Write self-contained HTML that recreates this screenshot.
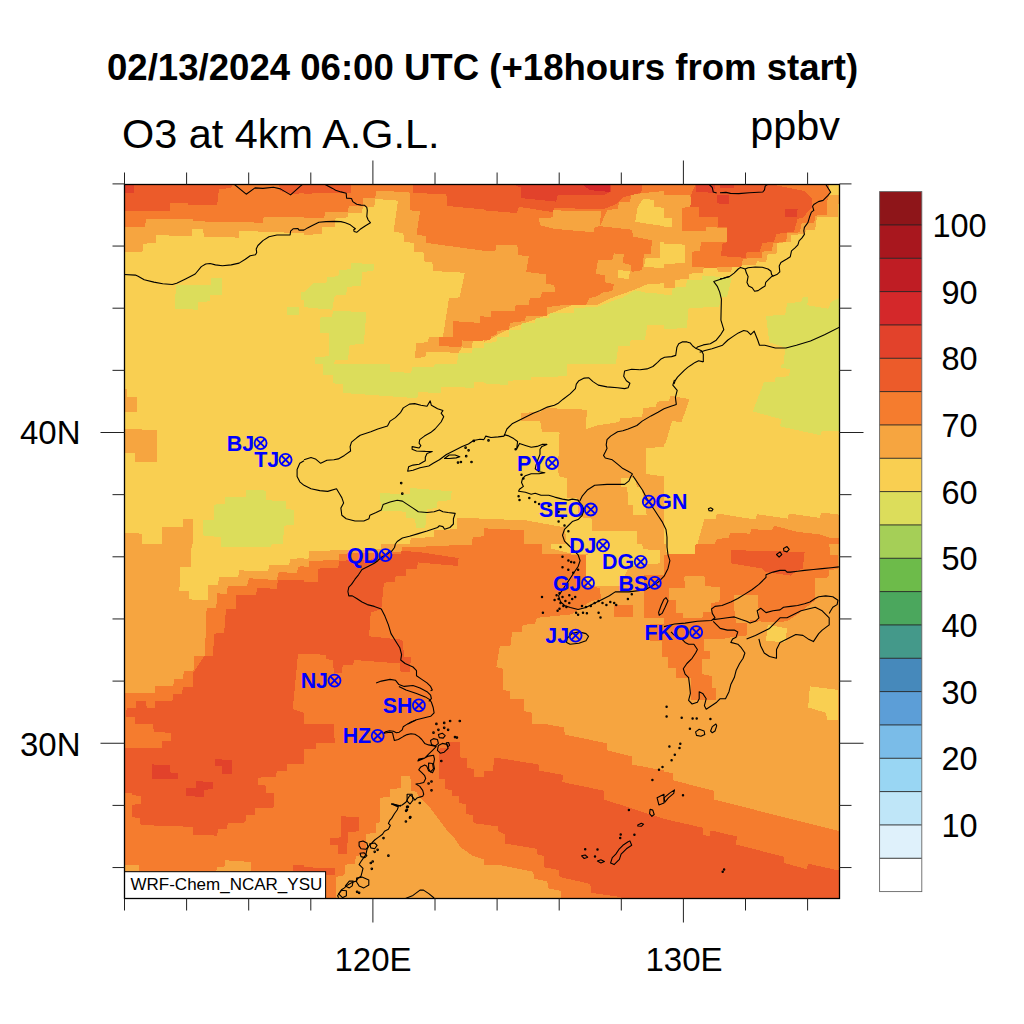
<!DOCTYPE html>
<html><head><meta charset="utf-8"><style>
html,body{margin:0;padding:0;background:#fff;width:1024px;height:1024px;overflow:hidden}
svg{position:absolute;left:0;top:0}
text{font-family:"Liberation Sans",sans-serif;fill:#000}
.t{font-weight:bold;font-size:36.6px}
.s{font-size:41.4px}
.ax{font-size:33px}
.cbl{font-size:32.5px}
.st{font-size:21.4px;font-weight:bold;fill:#00f}
.wm{font-size:17px}
</style></head><body>
<svg width="1024" height="1024" viewBox="0 0 1024 1024">
<defs><clipPath id="mc"><rect x="124.5" y="184.5" width="715.0" height="714.0"/></clipPath></defs>
<text x="107" y="80.4" class="t">02/13/2024 06:00 UTC (+18hours from start)</text>
<text x="122" y="148" class="s">O3 at 4km A.G.L.</text>
<text x="840" y="140" class="s" text-anchor="end">ppbv</text>
<g clip-path="url(#mc)" shape-rendering="crispEdges">
<rect x="124.5" y="184.5" width="715.0" height="714.0" fill="#F9CF51"/>
<g transform="translate(124 184) scale(0.175781)">
<polygon fill="#F6A540" points="0,0 1024,0 1024,280 800,272 655,265 655,305 455,300 450,255 390,255 385,295 185,292 180,335 110,340 105,385 0,385"/>
<polygon fill="#F57C2E" points="0,0 1024,0 1024,185 795,185 790,220 390,212 390,200 125,200 120,245 0,245"/>
<polygon fill="#EC5B2A" points="0,0 620,0 610,22 540,30 530,122 365,118 365,110 260,110 260,155 0,155"/>
<polygon fill="#EC5B2A" points="880,0 1024,0 1024,50 960,60 890,40"/>
<polygon fill="#E2422B" points="0,0 55,0 55,50 0,50"/>
<polygon fill="#DCDD5B" points="295,575 495,575 495,535 555,535 555,630 490,630 490,668 420,670 420,715 290,710"/>
<polygon fill="#DCDD5B" points="930,700 995,700 995,745 930,745"/>
<polygon fill="#DCDD5B" points="1005,615 1024,615 1024,660 1005,660"/>
</g>
<g transform="translate(124 364) scale(0.175781)">
<polygon fill="#F6A540" points="0,140 15,140 15,190 75,190 75,275 0,275"/>
<polygon fill="#F6A540" points="0,370 190,375 185,555 60,555 60,505 0,505"/>
<polygon fill="#F6A540" points="0,960 100,965 100,1024 0,1024"/>
<polygon fill="#F6A540" points="215,925 335,925 335,880 395,885 390,1024 215,1024"/>
<polygon fill="#DCDD5B" points="450,890 510,885 515,800 575,795 575,755 695,755 695,715 805,720 805,775 920,780 920,825 970,830 965,915 910,920 905,1024 555,1024 550,985 450,975"/>
</g>
<g transform="translate(124 544) scale(0.175781)">
<polygon fill="#F6A540" points="0,0 1024,0 1024,1024 0,1024"/>
<polygon fill="#F9CF51" points="385,0 1024,0 1024,80 945,85 940,120 825,120 820,155 655,150 650,185 540,190 535,235 480,235 475,320 370,315 370,270 315,270 320,130 380,130"/>
<polygon fill="#DCDD5B" points="550,0 840,0 835,20 550,15"/>
<polygon fill="#F57C2E" points="1024,125 990,130 985,165 880,160 870,205 710,195 700,240 590,240 585,285 530,280 525,365 470,365 460,635 400,635 395,725 340,725 335,770 285,770 280,810 175,810 175,850 0,850 0,1024 1024,1024"/>
<polygon fill="#EC5B2A" points="1024,205 875,205 870,255 760,250 750,290 640,290 635,370 580,370 570,505 515,510 505,635 455,640 395,730 390,815 335,815 330,855 280,855 275,895 175,895 175,935 130,935 125,895 70,895 65,935 15,935 10,985 60,985 60,1024 1024,1024 1024,960 960,940 990,625 1024,625"/>
</g>
<g transform="translate(124 724) scale(0.175781)">
<polygon fill="#F57C2E" points="0,0 1024,0 1024,1024 0,1024"/>
<polygon fill="#EC5B2A" points="0,135 215,135 215,95 265,95 265,50 170,45 165,0 1024,0 1024,230 930,230 925,265 870,265 865,300 765,305 765,345 805,350 805,390 855,395 850,480 745,480 745,515 695,520 690,560 590,565 585,600 535,600 530,635 395,630 390,585 95,575 90,535 45,530 45,460 95,455 95,410 50,405 45,395 0,395"/>
<polygon fill="#E2422B" points="160,230 260,235 260,275 305,280 305,315 160,315"/>
<polygon fill="#E2422B" points="515,200 615,205 615,285 560,285 555,240 515,240"/>
<polygon fill="#E2422B" points="350,365 410,365 410,325 505,330 505,370 455,375 455,415 350,410"/>
<polygon fill="#F6A540" points="0,800 85,800 85,835 0,835"/>
<polygon fill="#F6A540" points="525,835 530,815 575,810 575,775 720,785 720,835"/>
<polygon fill="#EC5B2A" points="960,800 1024,800 1024,835 960,835"/>
</g>
<g transform="translate(304 184) scale(0.175781)">
<polygon fill="#F6A540" points="0,0 1024,0 1024,890 960,895 955,935 900,930 880,960 695,955 690,985 630,990 640,905 705,900 710,870 790,870 825,650 885,645 915,505 735,495 730,445 680,440 680,390 625,385 625,335 570,330 565,280 510,270 535,95 405,85 400,130 335,130 330,165 250,165 250,190 180,195 175,245 105,245 100,285 0,290"/>
<polygon fill="#F57C2E" points="0,0 1024,0 1024,380 695,335 695,295 640,290 660,155 605,150 600,45 410,40 405,80 335,80 335,125 255,125 250,160 120,160 115,195 0,195"/>
<polygon fill="#F57C2E" points="850,780 1000,790 1000,750 1024,750 1024,890 960,895 900,890 895,930 770,920 770,870 850,870"/>
<polygon fill="#EC5B2A" points="0,0 270,0 265,50 0,55"/>
<polygon fill="#EC5B2A" points="620,0 1024,0 1024,145 815,125 810,60 620,50"/>
<polygon fill="#DCDD5B" points="0,620 50,565 130,560 130,530 195,525 200,490 265,485 270,450 400,455 395,495 330,500 325,580 245,585 240,630 175,635 160,715 40,705 0,700"/>
<polygon fill="#DCDD5B" points="90,760 160,755 165,720 355,730 340,910 260,915 250,1000 180,1000 170,1024 60,1024 65,985 140,980 145,850 90,850"/>
<polygon fill="#DCDD5B" points="880,960 955,960 960,935 1024,935 1024,1024 870,1024"/>
</g>
<g transform="translate(304 364) scale(0.175781)">
<polygon fill="#DCDD5B" points="110,0 490,0 490,45 610,50 615,15 740,15 745,0 1024,0 1024,100 970,105 965,135 780,130 780,165 650,160 645,195 225,165 220,115 165,110 165,65 110,60"/>
<polygon fill="#DCDD5B" points="430,735 600,740 605,705 840,725 835,775 760,780 755,820 700,825 690,930 640,935 630,880 580,875 580,840 440,835"/>
<polygon fill="#F6A540" points="600,1024 610,990 740,985 740,945 870,940 870,875 1024,880 1024,1024"/>
<polygon fill="#F57C2E" points="960,985 1024,980 1024,1024 955,1024"/>
</g>
<g transform="translate(304 544) scale(0.175781)">
<polygon fill="#F6A540" points="0,0 1024,0 1024,1024 0,1024"/>
<polygon fill="#F9CF51" points="0,0 440,0 440,30 30,40 25,85 0,85"/>
<polygon fill="#F57C2E" points="0,130 30,130 30,95 80,95 200,90 200,55 440,50 560,45 560,20 1024,0 1024,1024 0,1024"/>
<polygon fill="#EC5B2A" points="0,215 80,215 80,140 195,135 200,95 380,90 440,60 550,55 555,40 650,45 880,80 875,125 650,105 640,140 580,145 580,180 520,185 515,215 455,220 440,370 380,390 370,525 560,545 570,640 610,645 600,730 550,730 545,680 285,660 280,690 220,690 215,735 170,735 165,660 125,655 125,630 0,625"/>
</g>
<g transform="translate(304 724) scale(0.175781)">
<polygon fill="#F57C2E" points="0,0 1024,0 1024,1024 0,1024"/>
<polygon fill="#EC5B2A" points="0,0 170,0 175,110 70,110 65,145 0,145"/>
<polygon fill="#EC5B2A" points="210,525 315,530 315,610 250,615 245,740 195,740 195,690 150,690 150,650 210,645"/>
<polygon fill="#EC5B2A" points="0,815 175,820 175,860 0,860"/>
<polygon fill="#EC5B2A" points="820,100 890,100 890,190 925,195 925,250 965,255 970,300 1024,300 1024,570 965,565 960,520 920,510 920,455 880,450 880,410 840,410 840,375 800,370 800,315 770,310 770,140 820,135"/>
<polygon fill="#F6A540" points="550,295 605,295 610,380 640,385 645,400 680,440 720,480 765,540 810,600 850,640 890,700 960,750 1024,770 1024,1024 180,1024 180,870 230,860 235,800 290,795 295,750 350,745 355,625 410,620 410,565 430,560 430,420 490,415 490,370 550,365"/>
</g>
<g transform="translate(484 184) scale(0.175781)">
<polygon fill="#F6A540" points="0,0 1024,0 1024,565 930,570 860,600 790,625 720,650 640,690 500,690 370,740 290,770 150,820 0,900"/>
<polygon fill="#F9CF51" points="905,85 970,90 965,130 1024,135 1024,240 860,215 875,130"/>
<polygon fill="#F9CF51" points="1000,330 1024,330 1024,480 910,470 920,420 1000,420"/>
<polygon fill="#F9CF51" points="765,490 830,495 825,540 760,535"/>
<polygon fill="#F57C2E" points="0,0 1024,0 1024,40 920,50 840,60 830,100 770,105 760,140 700,150 660,240 840,260 850,300 955,320 950,400 910,400 900,490 840,500 835,460 790,450 795,400 740,395 730,430 650,430 635,510 690,520 690,560 740,570 730,610 680,615 640,640 600,650 580,690 440,690 360,700 360,750 240,750 230,780 150,790 140,830 75,835 70,860 40,865 35,890 0,890"/>
<polygon fill="#F6A540" points="0,380 65,380 70,345 190,350 195,405 255,410 240,500 355,515 350,565 400,575 405,615 330,615 320,650 260,650 255,690 180,690 175,720 40,720 40,755 0,755"/>
<polygon fill="#F6A540" points="310,195 390,190 395,150 665,155 660,240 630,245 625,275 400,255 320,235"/>
<polygon fill="#EC5B2A" points="0,0 900,0 895,50 790,75 760,110 690,140 660,145 400,135 390,160 200,130 185,165 0,150"/>
<polygon fill="#E2422B" points="160,0 720,0 720,45 690,60 420,60 410,100 210,80 210,20"/>
<polygon fill="#D4282A" points="560,0 720,0 715,45 600,35"/>
<polygon fill="#DCDD5B" points="0,905 70,900 75,870 140,870 145,830 210,830 215,790 290,790 295,760 370,760 375,735 510,735 515,705 640,700 720,670 790,645 860,605 930,620 1024,625 1024,800 930,800 915,885 835,885 830,920 765,920 750,1024 0,1024"/>
</g>
<g transform="translate(484 364) scale(0.175781)">
<polygon fill="#DCDD5B" points="0,0 475,0 470,70 270,75 265,90 140,95 135,120 0,110"/>
<polygon fill="#F6A540" points="210,280 330,270 335,250 585,260 580,370 640,350 770,330 775,310 900,300 905,250 975,245 985,215 1024,210 1024,1024 620,1024 615,880 540,870 530,765 475,760 470,650 430,640 420,610 430,390 330,385 320,325 210,325"/>
<polygon fill="#F9CF51" points="920,480 1024,470 1024,640 920,625"/>
<polygon fill="#F9CF51" points="780,650 860,645 870,700 900,705 905,790 920,795 925,860 850,860 845,800 820,800 815,700 780,700"/>
<polygon fill="#F9CF51" points="615,950 868,950 868,1024 615,1024"/>
<polygon fill="#F6A540" points="0,880 240,890 460,930 470,1024 0,1024"/>
<polygon fill="#F57C2E" points="0,935 230,945 230,1024 0,1024"/>
</g>
<g transform="translate(484 544) scale(0.175781)">
<polygon fill="#F6A540" points="0,0 1024,0 1024,1024 0,1024"/>
<polygon fill="#F9CF51" points="380,0 900,0 905,30 1000,35 1000,110 830,125 800,180 780,240 690,240 680,150 640,145 600,120 595,60 500,55 380,25"/>
<polygon fill="#F57C2E" points="0,0 330,0 330,55 500,60 580,65 580,240 660,250 665,310 600,330 500,400 300,420 290,455 220,460 215,500 160,500 150,580 90,580 70,700 110,710 110,830 150,840 150,880 225,880 230,950 270,960 275,1024 0,1024"/>
<polygon fill="#F9CF51" points="580,60 690,60 690,240 580,240"/>
<polygon fill="#F57C2E" points="909,177 1024,177 1024,420 909,420"/>
<polygon fill="#F57C2E" points="739,347 849,347 849,417 739,417"/>
<polygon fill="#F57C2E" points="943,455 1024,455 1024,643 1010,643 1010,552 943,552"/>
</g>
<g transform="translate(484 724) scale(0.175781)">
<polygon fill="#F57C2E" points="0,0 1024,0 1024,1024 0,1024"/>
<polygon fill="#F6A540" points="350,0 1024,0 1024,265 840,230 840,185 700,150 700,110 460,60 455,20"/>
<polygon fill="#EC5B2A" points="0,265 50,265 60,190 310,230 315,265 450,290 445,330 685,380 685,430 1024,540 1024,1024 790,1024 780,985 610,960 605,910 430,870 425,830 340,815 340,750 300,740 300,710 120,680 120,630 80,610 80,580 0,575"/>
<polygon fill="#F6A540" points="0,800 100,805 280,840 285,880 360,895 365,935 440,950 440,1024 0,1024"/>
</g>
<g transform="translate(664 184) scale(0.175781)">
<polygon fill="#F6A540" points="0,0 935,0 940,60 995,60 990,185 940,190 870,190 860,260 810,260 800,285 725,290 720,330 645,335 640,395 590,400 580,445 530,440 520,460 455,460 390,470 380,500 310,500 300,478 225,480 220,505 145,510 140,540 65,545 60,590 0,590"/>
<polygon fill="#F9CF51" points="0,195 45,195 45,245 0,245"/>
<polygon fill="#F9CF51" points="0,340 120,345 120,450 0,455"/>
<polygon fill="#F57C2E" points="0,0 935,0 945,45 930,90 925,175 860,180 855,220 780,225 775,275 700,280 695,330 620,335 615,380 560,385 555,420 450,425 440,470 300,475 290,480 160,470 160,385 205,380 210,330 360,330 365,250 240,245 240,270 100,265 105,135 155,130 150,60 0,60"/>
<polygon fill="#EC5B2A" points="180,0 600,0 700,20 800,40 840,80 845,130 790,190 760,200 740,270 640,285 625,330 560,335 545,385 470,390 465,420 325,410 330,340 360,330 360,245 305,245 305,190 200,185 200,130 150,130 155,60"/>
<polygon fill="#E2422B" points="180,0 290,0 285,50 180,45"/>
<polygon fill="#E2422B" points="320,0 400,0 400,20 320,20"/>
<polygon fill="#E2422B" points="300,60 370,60 370,115 300,110"/>
<polygon fill="#E2422B" points="690,140 760,145 755,190 690,185"/>
<polygon fill="#DCDD5B" points="0,630 45,630 50,590 125,585 130,545 215,545 220,520 385,535 360,640 320,645 315,700 140,705 130,820 0,825"/>
<polygon fill="#DCDD5B" points="580,750 690,745 700,680 780,670 790,640 820,645 815,690 935,710 950,670 1000,645 1024,645 1024,1024 680,1024 690,930 600,900 590,830"/>
</g>
<g transform="translate(664 364) scale(0.175781)">
<polygon fill="#F6A540" points="0,210 30,210 35,180 145,200 100,330 45,325 10,450 0,455"/>
<polygon fill="#DCDD5B" points="670,0 1024,0 1024,385 900,380 890,405 660,355 670,315 505,270 570,100 630,100 635,75 710,70 720,30 665,20"/>
<polygon fill="#F6A540" points="190,1024 230,880 295,880 300,850 520,885 530,855 705,880 710,850 885,875 895,845 1024,860 1024,1024"/>
<polygon fill="#F57C2E" points="290,1024 300,995 370,990 375,960 490,965 495,940 615,945 625,920 760,955 890,970 950,990 1024,990 1024,1024"/>
</g>
<g transform="translate(664 544) scale(0.175781)">
<polygon fill="#F6A540" points="0,0 1024,0 1024,1024 0,1024"/>
<polygon fill="#F57C2E" points="0,60 20,60 20,0 940,0 945,60 990,60 990,140 940,150 935,190 860,195 860,320 760,400 700,440 600,445 540,440 470,450 470,520 353,535 336,541 230,541 230,607 264,607 264,652 219,652 219,741 275,752 275,819 297,819 297,887 152,887 152,763 69,763 69,707 25,707 25,641 0,641"/>
<polygon fill="#F6A540" points="69,250 120,250 115,185 230,180 235,240 320,245 315,330 270,335 265,385 220,390 219,419 108,419 108,391 69,391"/>
<polygon fill="#F6A540" points="30,250 69,250 69,319 30,319"/>
<polygon fill="#F6A540" points="400,290 535,290 540,430 490,430 485,450 410,450 400,370"/>
<polygon fill="#EC5B2A" points="380,35 800,45 790,140 760,150 720,180 650,170 580,160 560,140 380,110"/>
<polygon fill="#F9CF51" points="10,0 180,0 175,55 15,55"/>
<polygon fill="#F9CF51" points="590,460 700,480 690,560 580,550"/>
<polygon fill="#F9CF51" points="830,810 990,830 990,1000 930,1000 920,960 820,930"/>
</g>
<g transform="translate(664 724) scale(0.175781)">
<polygon fill="#F6A540" points="0,0 1024,0 1024,1024 0,1024"/>
<polygon fill="#F57C2E" points="0,270 50,280 50,320 285,380 285,430 1000,610 1024,610 1024,1024 0,1024"/>
<polygon fill="#EC5B2A" points="0,540 220,590 220,630 260,640 265,605 415,640 410,685 680,755 680,790 810,825 820,795 1024,840 1024,1024 0,1024"/>
</g>
</g>
<g clip-path="url(#mc)" fill="none" stroke="#000" stroke-width="1.1" stroke-linejoin="round">
<path d="M124.0 274.5L135.4 275.1L138.1 276.3L144.2 279.8L153.9 282.1L162.7 283.7L172.3 284.5L176.7 283.3L185.5 278.9L195.2 274.0L201.3 266.6L205.7 264.0L210.1 263.5L215.4 264.9L222.4 265.7L231.2 264.9L239.1 263.1L245.3 259.2L250.2 255.7L255.5 254.7L256.7 252.6L256.2 249.0L257.9 245.5L262.9 240.6L269.0 236.7L276.9 235.0L290.1 235.0L290.6 231.1L293.1 228.8L298.0 228.5L298.9 230.1L304.0 230.1"/>
<path d="M233.9 184.0L246.2 194.2L255.0 187.9L262.9 188.4L273.4 187.2L280.4 188.9L290.6 194.9L299.8 186.6L302.9 184.0"/>
<path d="M325.1 184.4L332.6 188.4L335.6 190.2L340.9 191.9L346.2 193.2L346.6 198.1L351.5 198.5L352.8 201.6L356.7 204.2L361.1 205.1L364.6 205.3L366.8 207.3L367.3 210.4L366.8 216.5L368.2 220.0L370.4 222.7L365.5 225.7L360.2 229.3L356.7 232.3L354.1 231.5L353.7 229.7L355.4 228.8L353.2 227.1L349.7 224.4L345.3 222.7L340.9 221.6L334.8 221.4L326.0 221.6L318.9 222.2L312.8 225.3L307.5 227.9L304.0 230.1"/>
<path d="M720.0 192.8L725.9 192.4L730.5 193.4L738.8 193.6L749.3 192.8L758.7 192.2L762.8 192.0L764.5 189.9L765.1 186.3L766.9 184.6L771.6 184.0"/>
<path d="M708.8 184.0L712.3 187.5L713.2 191.9L716.7 193.1"/>
<path d="M825.5 184.0L830.7 192.2L827.8 195.7L823.1 200.4L818.4 201.6L813.8 204.5L812.6 206.3L813.8 210.4L811.4 212.1L809.6 216.8L807.9 222.7L804.4 227.4L803.8 230.9L804.4 234.4L802.0 237.9L799.1 240.8L797.9 244.9L795.0 247.9L791.5 250.8L790.3 256.7L786.8 259.0L780.9 262.5L779.2 266.0L779.8 271.9L777.4 274.2L773.3 276.0L771.6 274.8"/>
<path d="M771.6 274.8L771.0 271.3L768.0 269.0L762.2 267.2L755.2 267.0L748.1 267.8L745.2 269.0L746.4 273.1L748.1 276.6L747.0 282.4L748.7 286.0L752.2 287.7L754.6 291.2L758.1 290.6L762.2 287.7L765.1 286.0L765.7 282.4L769.2 278.9L771.6 276.6L773.3 276.0"/>
<path d="M745.2 269.0L740.5 267.4L738.2 269.0L734.1 273.1L729.4 276.6L723.5 278.3L720.0 278.9"/>
<path d="M729.4 276.5L724.4 277.9L713.8 281.6L717.3 286.3L719.7 292.1L721.4 299.2L721.1 310.9L720.9 320.2L723.8 329.6L720.9 334.3L716.2 340.2L710.3 343.7L703.3 344.9L697.4 347.0L696.2 348.6L701.5 350.7L703.3 354.2L703.3 361.9"/>
<path d="M696.2 348.6L692.7 346.0L690.4 343.1L686.9 341.9L682.2 341.9L678.7 343.7L676.9 347.2L675.7 355.4L671.6 356.6L664.6 357.2L661.1 358.9L657.6 362.4L652.9 366.5L647.0 368.9L640.0 369.8"/>
<path d="M639.9 369.8L631.7 369.3L624.6 371.0L623.7 376.3L626.4 380.7L629.9 383.3L628.1 387.7L624.6 388.6L617.6 387.7L607.0 386.9L598.3 385.1L593.0 381.6L588.6 377.7L584.2 378.1L578.9 380.7L576.3 384.2L575.4 388.6L570.1 393.9L563.1 399.2L557.8 403.6L554.3 405.3L547.3 407.1L540.2 410.6L533.2 413.2L526.2 416.7L519.2 420.2L512.1 423.8L506.9 429.0L505.1 433.4L504.2 436.1"/>
<path d="M699.7 352.3L705.0 350.5L712.0 348.8L722.6 345.2L727.9 340.0L733.1 336.4L738.4 332.9L743.7 330.5L747.2 331.2L750.7 334.7L754.2 331.2L757.7 340.0L759.5 345.2L764.8 345.2L775.3 348.0L785.9 348.0L796.4 345.2L810.5 341.0L824.5 334.7L840.0 327.0"/>
<path d="M703.3 361.9L698.6 360.7L695.1 362.4L691.6 364.8L688.0 367.1L684.5 370.1L681.0 373.6L677.5 377.1L675.2 380.6L674.0 384.0"/>
<path d="M674.5 379.8L672.8 385.1L677.2 390.4L675.4 397.4L676.3 404.4L671.0 406.2L664.0 408.8"/>
<path d="M664.0 408.8L658.0 412.3L651.0 415.9L642.2 421.1L636.9 425.5L628.1 429.0L622.9 430.8L617.6 431.7L610.6 436.1L607.0 439.6L606.2 444.9L607.0 448.4L605.3 451.9L603.5 455.4L605.3 458.0L612.3 459.8L617.6 464.2L622.9 468.6L628.1 471.2L632.5 473.9"/>
<path d="M579.8 501.1L582.4 495.8L587.7 489.7L594.7 485.3L607.0 484.4L624.6 484.4L629.0 480.9L630.8 476.5L632.5 473.9"/>
<path d="M484.0 439.6L485.8 436.1L491.0 437.5L498.1 436.9L504.2 436.1"/>
<path d="M503.9 434.6L507.8 435.6L513.7 438.6L517.6 441.5L516.6 449.3L519.5 443.4L525.4 445.4L531.2 447.3L537.1 446.4L542.0 444.4L546.9 444.4L542.0 446.4L540.0 449.3L540.0 454.2L538.1 459.1L536.1 464.9L535.2 468.8L539.1 471.8L544.9 472.7L539.1 473.7L531.2 473.7L525.4 475.7L522.5 478.6L521.5 482.5L523.4 486.4L519.5 489.3L518.6 491.3L525.4 492.3L531.2 494.2L535.2 493.2L541.0 495.2L548.8 495.2L554.7 497.1L562.5 499.1L568.4 500.1L572.3 499.1L578.1 500.1L582.0 505.9L584.0 509.8L582.0 515.7L578.1 519.6L572.3 521.6L568.4 525.5L564.5 529.4L562.5 535.2L564.5 541.1L568.4 545.0L572.3 548.9L578.1 554.8L580.1 560.6L578.1 566.5L574.2 572.3L570.3 578.2L566.4 584.1L562.5 589.9L558.6 595.8L560.5 601.6L564.5 605.5L570.3 607.5L578.1 609.5L585.9 607.5L593.8 603.6L601.6 599.7L609.4 595.8L615.2 591.9L621.1 591.9L628.9 591.9L636.7 590.9L644.5 589.9L652.3 586.0L658.2 582.1L664.1 576.2L668.0 568.4L669.9 560.6L668.0 554.8L667.0 547.0L667.0 537.2L666.0 529.4L662.1 521.6L658.2 515.7L654.3 509.8L650.4 504.0L646.5 498.1L642.6 490.3L638.7 484.5L634.8 478.6L632.8 475.7"/>
<path d="M666.0 597.7L668.0 600.7L665.0 607.5L662.1 613.4L659.2 615.3L658.6 612.4L661.1 605.5L663.7 599.7L666.0 597.7Z"/>
<path d="M566.6 638.9L571.9 633.6L578.9 631.9L586.0 633.6L588.6 636.3L586.0 640.7L578.9 643.3L570.1 644.2L566.6 642.4Z"/>
<path d="M304.0 460.7L299.8 463.3L297.1 469.5L297.1 476.5L299.8 481.8L304.0 485.3"/>
<path d="M304.0 459.8L311.0 457.5L315.4 458.9L320.7 463.3L326.9 460.3L333.9 459.8L338.3 458.9L344.4 455.4L350.6 451.0L350.1 446.6L351.5 442.2L356.7 437.8L360.2 435.2L370.8 431.7L377.8 429.0L387.5 425.9L390.1 421.1L395.4 417.6L400.7 412.3L403.3 407.9L409.5 404.1L414.7 403.6L420.9 405.3L427.0 406.2L430.2 400.9L431.4 405.3L437.6 408.8L442.9 410.6L441.1 413.2L443.7 416.7L441.1 422.0L435.0 429.0L430.6 432.6L424.4 436.1L419.7 439.6L419.1 443.1L420.9 445.7L419.1 448.0L412.1 446.6L412.1 449.3L416.5 451.0L425.3 451.4L432.3 451.5L427.0 453.6L425.3 457.2L425.3 460.7L419.1 464.2L413.0 465.1L408.6 466.8L407.7 471.2L413.0 470.3L420.0 467.7L428.8 466.0L433.2 463.3L439.4 459.8L446.4 454.5L453.4 451.0L462.2 446.6L468.4 444.0L473.6 440.5L479.8 439.2L484.0 439.6"/>
<path d="M304.0 485.3L311.0 488.8L319.8 490.6L327.7 491.4L336.5 488.8L339.2 493.2L341.8 497.6L343.6 502.9L340.9 508.1L341.8 515.2L346.2 518.7L355.0 521.0L363.8 521.0L369.0 518.7L369.9 515.2L376.1 512.5L381.3 509.9L383.1 504.6L390.1 502.0L397.2 500.2L402.4 501.1L407.7 504.6L413.0 508.1L418.3 511.7L427.0 512.5L434.1 511.7L439.4 509.9L442.9 511.7L448.1 512.5L455.2 513.4L453.4 518.7L453.4 524.0L449.9 527.5L444.6 529.2L442.9 526.6L439.4 525.7L437.6 527.5L427.0 531.0L418.3 533.6L409.5 536.3L402.4 538.0L397.2 541.5L395.4 544.0"/>
<path d="M395.4 544.0L394.5 547.5L391.9 551.0L386.6 554.5L381.3 557.2L377.8 560.7L374.3 563.3L369.0 566.0L362.0 569.5L358.5 574.8L355.0 579.2L351.5 584.4L348.8 587.1L347.9 591.5L348.8 595.9L352.3 595.9L356.7 598.5L362.0 602.0L367.3 604.6L374.3 606.4L381.3 609.0L384.9 616.1L388.4 624.9L391.0 633.6L395.4 640.7L399.8 647.7L401.6 654.7L400.7 660.0L405.1 663.5L413.0 667.0L416.5 670.6L416.5 675.8L421.8 679.4L427.0 682.9L430.6 686.4L432.3 689.9L430.6 690.8"/>
<path d="M376.1 682.9L381.3 681.1L390.1 679.4L395.4 680.2L398.9 684.6L404.2 686.4L413.0 685.5L420.0 688.1L427.0 691.7L430.6 695.2L431.4 698.7L428.8 701.3"/>
<path d="M398.9 686.4L406.0 689.9L416.5 693.4L425.3 696.9L429.7 699.6L431.4 702.2L433.2 707.5L434.1 712.8L430.6 716.3L423.5 718.0L416.5 719.8L409.5 723.3L407.7 724.0"/>
<path d="M404.2 898.9L413.0 895.4L420.0 890.1L423.5 890.1L428.8 893.6L434.1 898.0"/>
<path d="M664.0 626.6L674.5 624.0L685.1 623.1L697.4 621.3L711.5 620.5L715.0 617.8L712.3 613.4L711.5 609.0L715.0 606.4L722.0 605.5L730.8 602.0L737.8 598.5L744.9 594.1L751.9 589.7L758.9 584.4L766.0 577.4L766.0 574.8L773.0 572.1L780.0 570.4L785.3 570.4L787.0 572.1L790.6 572.1L797.6 571.2L804.6 570.4L813.4 569.5L822.2 568.6L831.0 567.7L838.9 566.9"/>
<path d="M713.2 619.6L720.2 618.7L727.3 617.8L734.3 616.9L741.3 619.6L746.6 621.3L750.1 623.1L755.4 621.3L758.9 617.8L757.2 610.8L760.7 608.2L766.0 612.6L773.0 610.8L780.0 609.9L783.5 607.3L790.6 606.4L797.6 605.5L804.6 603.8L809.9 602.0L815.2 598.5L818.7 596.7L825.7 595.9L832.8 596.7L838.0 600.2L837.1 604.6L832.8 607.3L830.1 611.7L829.2 613.4"/>
<path d="M746.6 638.9L755.4 635.4L762.4 631.9L769.5 628.4L776.5 621.3L780.0 617.8L787.0 617.8L794.1 614.3L801.1 610.8L808.1 609.0L815.2 607.3L822.2 610.8L825.7 614.3L829.2 617.8L829.2 624.9L822.2 630.1L818.7 633.6L815.2 638.9L813.4 641.6L808.1 638.9L802.9 635.4L795.8 634.5L787.0 638.9L780.0 642.4L776.5 649.5L776.5 658.3L769.5 656.5L764.2 653.0L760.7 646.0L758.9 638.9"/>
<path d="M713.2 621.3L716.7 624.9L720.2 628.4L727.3 630.1L734.3 630.1L737.8 631.9L736.1 637.2L732.6 638.9L730.8 642.4L737.8 644.2L741.3 647.7L744.9 653.0L743.1 658.3L739.6 663.5L736.1 670.6L734.3 677.6L730.8 684.6L729.0 691.7L725.5 698.7L720.2 698.7L716.7 702.2L711.5 705.7L706.2 709.2L704.4 705.7L706.2 698.7L702.7 693.4L699.2 691.7L699.2 698.7L697.4 702.2L692.1 704.0L688.6 700.4L690.4 693.4L689.5 684.6L688.6 677.6L685.1 674.1L683.3 668.8L686.9 663.5L692.1 658.3L695.6 653.0L697.4 649.5L693.9 644.2L688.6 644.2L685.1 642.4L681.6 638.9L674.5 635.4L671.0 631.9"/>
<path d="M776.5 554.5L780.0 551.9L781.8 554.5L779.1 557.2L776.5 554.5Z"/>
<path d="M783.5 548.4L787.0 546.6L789.2 549.3L787.0 551.9L783.9 551.0L783.5 548.4Z"/>
<path d="M629.9 840.9L631.7 845.3L626.4 848.8L621.1 854.1L619.4 859.4L614.1 864.6L610.6 862.9L612.3 857.6L615.8 854.1L619.4 848.8L622.9 845.3L628.1 841.8L629.9 840.9Z"/>
<path d="M650.1 809.3L652.8 810.1L654.2 814.5L651.9 816.3L649.6 813.6L650.1 809.3Z"/>
<path d="M637.8 825.1L641.3 823.3L643.6 824.2L641.3 826.3L637.8 826.0Z"/>
<path d="M581.6 855.8L585.1 855.0L587.7 857.2L584.2 858.5L581.6 855.8Z"/>
<path d="M597.4 861.1L600.9 859.7L604.4 861.5L600.9 862.9L597.4 861.1Z"/>
<path d="M657.1 797.8L664.0 794.3L664.0 803.1L658.9 804.9L657.1 797.8Z"/>
<path d="M695.6 731.9L699.2 729.3L704.1 731.0L704.8 734.5L700.9 736.3L696.5 735.4L695.6 731.9Z"/>
<path d="M710.6 731.0L712.3 726.6L715.9 724.0L716.7 725.8L715.0 731.0L712.3 732.8L710.6 731.0Z"/>
<path d="M664.0 797.8L669.3 793.4L674.5 789.9L673.7 793.4L668.4 797.8L664.9 802.2L664.0 797.8Z"/>
<path d="M708.4 508.8L710.7 507.8L713.0 509.2L711.9 510.9L709.1 510.7L708.4 508.8Z"/>
<path d="M415.9 720.0L411.0 722.0L406.1 724.9L403.2 726.8L402.2 729.8L399.3 732.2L396.4 732.7L393.4 731.2L389.5 730.7L385.6 731.7L383.7 733.2"/>
<path d="M383.7 733.2L389.5 732.2L392.5 732.7L393.4 736.6L394.4 740.5L398.3 739.5L403.2 736.6L407.1 734.6L411.0 733.7L414.9 734.2L418.8 736.6L421.8 739.5L424.7 743.4L428.6 744.9L432.5 745.6L436.4 746.4"/>
<path d="M436.4 746.4L432.5 750.3L428.6 754.2L424.7 758.1L418.8 759.1L417.9 761.0L422.7 759.1L428.6 756.1L433.5 755.2L434.5 759.1L433.5 763.9L434.5 768.8L432.5 772.7L428.6 770.8L426.6 765.9L424.7 764.9L420.8 766.9L418.8 769.8L421.8 772.7L424.7 775.7L425.7 778.6L423.7 782.5L419.8 783.5L415.9 784.0L419.8 786.4L422.7 790.3L423.7 794.2L422.7 796.2L419.8 797.1L416.9 798.1L414.9 800.1L412.0 796.2L410.0 795.2L408.1 798.1L406.1 802.0L402.2 805.0L398.3 805.9L393.4 804.0L391.5 804.0L398.3 806.9L397.3 809.8L394.4 813.8L391.5 818.6L390.0 820.0"/>
<path d="M430.5 740.5L433.5 738.6L437.4 739.5L438.4 743.4L435.4 745.9L431.5 744.4L430.5 740.5Z"/>
<path d="M438.4 745.4L442.3 743.4L447.1 744.4L448.1 748.3L444.2 752.2L440.3 753.2L437.4 750.3L438.4 745.4Z"/>
<path d="M438.4 734.6L442.3 733.2L445.2 735.6L443.2 738.1L439.3 737.6L438.4 734.6Z"/>
<path d="M446.2 742.9L448.6 742.5L449.6 745.4L447.6 746.9L446.2 742.9Z"/>
<path d="M428.6 763.0L432.5 763.5L433.5 768.8L430.5 771.8L428.6 768.8L428.6 763.0Z"/>
<path d="M407.1 794.2L412.0 794.2L413.0 800.1L410.0 804.0L407.1 801.1L407.1 794.2Z"/>
<path d="M444.5 458.5L449.2 455.0L455.1 455.0L459.8 456.8L456.2 457.9L449.2 458.5L444.5 458.5Z"/>
<path d="M390.0 820.0L388.4 823.4L390.3 825.4L388.4 829.3L384.5 831.2L382.5 834.2L378.6 837.1L374.7 840.0L371.8 843.0L368.8 845.9L366.9 849.8L365.9 854.7L363.0 858.6L361.0 861.5L359.1 864.5L361.0 866.4L363.0 868.4L362.0 872.3L361.0 876.2L358.1 878.1L356.1 881.1L353.2 882.0L349.3 884.0L346.4 885.9L344.4 887.9L341.5 889.8L339.5 892.8L337.6 895.7L338.6 897.7"/>
<path d="M359.1 842.0L363.0 841.0L366.9 843.0L367.9 846.9L365.9 849.3L361.0 848.8L359.1 845.9L359.1 842.0Z"/>
<path d="M369.8 843.9L374.7 843.0L377.1 845.4L374.7 848.8L370.8 847.9L369.8 843.9Z"/>
<path d="M360.0 853.2L363.9 852.7L366.9 855.7L364.9 857.6L361.0 856.6L360.0 853.2Z"/>
<path d="M356.6 878.1L362.0 877.1L368.8 880.1L368.8 885.0L363.9 887.9L359.1 885.9L356.6 882.0L356.6 878.1Z"/>
<path d="M345.4 885.9L349.3 881.1L353.2 881.1L352.2 885.9L349.3 887.9L345.4 885.9Z"/>
<path d="M338.6 893.8L341.5 890.3L346.4 890.8L346.4 895.7L342.5 897.7L338.6 893.8Z"/>
<path d="M391.3 803.9L396.2 804.9L401.1 806.1"/>
<circle cx="556.6" cy="595.2" r="0.7"/>
<circle cx="559.5" cy="593.2" r="0.7"/>
<circle cx="562.5" cy="597.1" r="0.7"/>
<circle cx="565.4" cy="601.0" r="0.7"/>
<circle cx="560.5" cy="603.0" r="0.7"/>
<circle cx="558.6" cy="599.1" r="0.7"/>
<circle cx="563.4" cy="605.9" r="0.7"/>
<circle cx="566.4" cy="606.9" r="0.7"/>
<circle cx="569.3" cy="603.0" r="0.7"/>
<circle cx="572.2" cy="599.1" r="0.7"/>
<circle cx="575.2" cy="597.1" r="0.7"/>
<circle cx="569.3" cy="595.2" r="0.7"/>
<circle cx="559.5" cy="608.8" r="0.7"/>
<circle cx="557.6" cy="610.8" r="0.7"/>
<circle cx="576.1" cy="612.7" r="0.7"/>
<circle cx="578.1" cy="614.7" r="0.7"/>
<circle cx="583.0" cy="612.7" r="0.7"/>
<circle cx="586.9" cy="613.2" r="0.7"/>
<circle cx="554.6" cy="600.0" r="0.7"/>
<circle cx="542.0" cy="597.1" r="0.7"/>
<circle cx="542.9" cy="612.7" r="0.7"/>
<circle cx="582.0" cy="605.9" r="0.7"/>
<circle cx="585.9" cy="606.9" r="0.7"/>
<circle cx="590.8" cy="605.9" r="0.7"/>
<circle cx="594.7" cy="603.0" r="0.7"/>
<circle cx="598.6" cy="601.0" r="0.7"/>
<circle cx="602.5" cy="603.0" r="0.7"/>
<circle cx="606.4" cy="604.9" r="0.7"/>
<circle cx="610.3" cy="602.0" r="0.7"/>
<circle cx="614.2" cy="603.0" r="0.7"/>
<circle cx="616.2" cy="604.9" r="0.7"/>
<circle cx="627.9" cy="599.1" r="0.7"/>
<circle cx="631.8" cy="594.2" r="0.7"/>
<circle cx="598.6" cy="612.7" r="0.7"/>
<circle cx="600.5" cy="617.6" r="0.7"/>
<circle cx="562.5" cy="567.3" r="0.7"/>
<circle cx="568.3" cy="569.8" r="0.7"/>
<circle cx="571.2" cy="562.0" r="0.7"/>
<circle cx="578.1" cy="569.8" r="0.7"/>
<circle cx="573.2" cy="572.7" r="0.7"/>
<circle cx="518.6" cy="496.2" r="0.7"/>
<circle cx="519.5" cy="500.1" r="0.7"/>
<circle cx="529.3" cy="498.1" r="0.7"/>
<circle cx="535.2" cy="502.0" r="0.7"/>
<circle cx="539.1" cy="504.0" r="0.7"/>
<circle cx="548.8" cy="505.9" r="0.7"/>
<circle cx="558.6" cy="511.8" r="0.7"/>
<circle cx="562.5" cy="517.7" r="0.7"/>
<circle cx="558.6" cy="521.6" r="0.7"/>
<circle cx="564.5" cy="525.5" r="0.7"/>
<circle cx="568.4" cy="531.3" r="0.7"/>
<circle cx="560.5" cy="547.0" r="0.7"/>
<circle cx="562.5" cy="556.7" r="0.7"/>
<circle cx="568.4" cy="560.6" r="0.7"/>
<circle cx="574.2" cy="562.6" r="0.7"/>
<circle cx="523.4" cy="478.6" r="0.7"/>
<circle cx="521.5" cy="474.7" r="0.7"/>
<circle cx="515.6" cy="449.3" r="0.7"/>
<circle cx="436.4" cy="723.9" r="0.8"/>
<circle cx="444.2" cy="722.9" r="0.8"/>
<circle cx="444.2" cy="727.8" r="0.8"/>
<circle cx="448.1" cy="729.8" r="0.8"/>
<circle cx="433.5" cy="732.7" r="0.8"/>
<circle cx="456.9" cy="737.6" r="0.8"/>
<circle cx="450.1" cy="721.0" r="0.8"/>
<circle cx="459.8" cy="721.0" r="0.8"/>
<circle cx="428.6" cy="783.5" r="0.8"/>
<circle cx="431.5" cy="790.3" r="0.8"/>
<circle cx="419.8" cy="803.0" r="0.8"/>
<circle cx="410.0" cy="817.7" r="0.8"/>
<circle cx="406.1" cy="810.8" r="0.8"/>
<circle cx="407.1" cy="806.9" r="0.8"/>
<circle cx="431.5" cy="781.5" r="0.8"/>
<circle cx="441.3" cy="761.0" r="0.8"/>
<circle cx="455.0" cy="737.1" r="0.8"/>
<circle cx="438.4" cy="729.8" r="0.8"/>
<circle cx="465.6" cy="447.7" r="0.8"/>
<circle cx="468.6" cy="450.3" r="0.8"/>
<circle cx="458.0" cy="462.6" r="0.8"/>
<circle cx="460.9" cy="462.0" r="0.8"/>
<circle cx="471.5" cy="462.0" r="0.8"/>
<circle cx="466.2" cy="456.2" r="0.8"/>
<circle cx="488.5" cy="440.4" r="0.8"/>
<circle cx="473.8" cy="440.9" r="0.8"/>
<circle cx="401.2" cy="483.1" r="0.8"/>
<circle cx="402.3" cy="493.7" r="0.8"/>
<circle cx="383.5" cy="838.1" r="0.8"/>
<circle cx="377.6" cy="849.8" r="0.8"/>
<circle cx="374.7" cy="851.8" r="0.8"/>
<circle cx="388.4" cy="855.7" r="0.8"/>
<circle cx="372.7" cy="861.5" r="0.8"/>
<circle cx="370.8" cy="863.0" r="0.8"/>
<circle cx="371.8" cy="868.8" r="0.8"/>
<circle cx="405.9" cy="821.5" r="0.8"/>
<circle cx="410.3" cy="817.1" r="0.8"/>
<circle cx="406.9" cy="809.8" r="0.8"/>
<circle cx="407.9" cy="806.8" r="0.8"/>
<circle cx="357.1" cy="891.8" r="0.8"/>
<circle cx="359.1" cy="892.8" r="0.8"/>
<circle cx="666.6" cy="706.8" r="0.7"/>
<circle cx="666.6" cy="716.4" r="0.7"/>
<circle cx="681.7" cy="717.8" r="0.7"/>
<circle cx="692.6" cy="718.6" r="0.7"/>
<circle cx="696.7" cy="718.6" r="0.7"/>
<circle cx="710.4" cy="719.1" r="0.7"/>
<circle cx="689.9" cy="728.7" r="0.7"/>
<circle cx="669.4" cy="746.5" r="0.7"/>
<circle cx="680.3" cy="743.8" r="0.7"/>
<circle cx="679.5" cy="747.9" r="0.7"/>
<circle cx="674.8" cy="754.7" r="0.7"/>
<circle cx="671.6" cy="760.2" r="0.7"/>
<circle cx="662.5" cy="767.0" r="0.7"/>
<circle cx="659.0" cy="769.7" r="0.7"/>
<circle cx="652.4" cy="780.1" r="0.7"/>
<circle cx="683.0" cy="795.2" r="0.7"/>
<circle cx="628.9" cy="809.9" r="0.7"/>
<circle cx="634.4" cy="834.8" r="0.7"/>
<circle cx="620.7" cy="834.5" r="0.7"/>
<circle cx="620.2" cy="838.1" r="0.7"/>
<circle cx="597.5" cy="849.6" r="0.7"/>
<circle cx="595.0" cy="856.4" r="0.7"/>
<circle cx="585.2" cy="849.3" r="0.7"/>
<circle cx="722.7" cy="871.7" r="0.7"/>
<circle cx="724.1" cy="869.5" r="0.7"/>
</g>
<circle cx="260.6" cy="443.1" r="6.0" fill="none" stroke="#00f" stroke-width="1.8"/>
<path d="M256.4 438.9L264.8 447.3M256.4 447.3L264.8 438.9" stroke="#00f" stroke-width="1.8"/>
<text x="254.1" y="450.7" text-anchor="end" class="st">BJ</text>
<circle cx="285.6" cy="459.8" r="6.0" fill="none" stroke="#00f" stroke-width="1.8"/>
<path d="M281.4 455.6L289.8 464.0M281.4 464.0L289.8 455.6" stroke="#00f" stroke-width="1.8"/>
<text x="279.1" y="467.4" text-anchor="end" class="st">TJ</text>
<circle cx="552.1" cy="463.0" r="6.0" fill="none" stroke="#00f" stroke-width="1.8"/>
<path d="M547.9 458.8L556.3 467.2M547.9 467.2L556.3 458.8" stroke="#00f" stroke-width="1.8"/>
<text x="545.6" y="470.6" text-anchor="end" class="st">PY</text>
<circle cx="590.8" cy="509.5" r="6.0" fill="none" stroke="#00f" stroke-width="1.8"/>
<path d="M586.6 505.3L595.0 513.7M586.6 513.7L595.0 505.3" stroke="#00f" stroke-width="1.8"/>
<text x="584.3" y="517.1" text-anchor="end" class="st">SEO</text>
<circle cx="648.8" cy="501.7" r="6.0" fill="none" stroke="#00f" stroke-width="1.8"/>
<path d="M644.6 497.5L653.0 505.9M644.6 505.9L653.0 497.5" stroke="#00f" stroke-width="1.8"/>
<text x="655.3" y="509.3" text-anchor="start" class="st">GN</text>
<circle cx="603.0" cy="545.3" r="6.0" fill="none" stroke="#00f" stroke-width="1.8"/>
<path d="M598.8 541.1L607.2 549.5M598.8 549.5L607.2 541.1" stroke="#00f" stroke-width="1.8"/>
<text x="596.5" y="552.9" text-anchor="end" class="st">DJ</text>
<circle cx="640.7" cy="561.8" r="6.0" fill="none" stroke="#00f" stroke-width="1.8"/>
<path d="M636.5 557.6L644.9 566.0M636.5 566.0L644.9 557.6" stroke="#00f" stroke-width="1.8"/>
<text x="634.2" y="569.4" text-anchor="end" class="st">DG</text>
<circle cx="588.0" cy="582.9" r="6.0" fill="none" stroke="#00f" stroke-width="1.8"/>
<path d="M583.8 578.7L592.2 587.1M583.8 587.1L592.2 578.7" stroke="#00f" stroke-width="1.8"/>
<text x="581.5" y="590.5" text-anchor="end" class="st">GJ</text>
<circle cx="654.8" cy="582.9" r="6.0" fill="none" stroke="#00f" stroke-width="1.8"/>
<path d="M650.6 578.7L659.0 587.1M650.6 587.1L659.0 578.7" stroke="#00f" stroke-width="1.8"/>
<text x="648.3" y="590.5" text-anchor="end" class="st">BS</text>
<circle cx="575.6" cy="635.6" r="6.0" fill="none" stroke="#00f" stroke-width="1.8"/>
<path d="M571.4 631.4L579.8 639.8M571.4 639.8L579.8 631.4" stroke="#00f" stroke-width="1.8"/>
<text x="569.1" y="643.2" text-anchor="end" class="st">JJ</text>
<circle cx="696.2" cy="632.1" r="6.0" fill="none" stroke="#00f" stroke-width="1.8"/>
<path d="M692.0 627.9L700.4 636.3M692.0 636.3L700.4 627.9" stroke="#00f" stroke-width="1.8"/>
<text x="689.7" y="639.7" text-anchor="end" class="st">FKO</text>
<circle cx="385.5" cy="555.1" r="6.0" fill="none" stroke="#00f" stroke-width="1.8"/>
<path d="M381.3 550.9L389.7 559.3M381.3 559.3L389.7 550.9" stroke="#00f" stroke-width="1.8"/>
<text x="379.0" y="562.7" text-anchor="end" class="st">QD</text>
<circle cx="334.5" cy="680.6" r="6.0" fill="none" stroke="#00f" stroke-width="1.8"/>
<path d="M330.3 676.4L338.7 684.8M330.3 684.8L338.7 676.4" stroke="#00f" stroke-width="1.8"/>
<text x="328.0" y="688.2" text-anchor="end" class="st">NJ</text>
<circle cx="418.9" cy="705.3" r="6.0" fill="none" stroke="#00f" stroke-width="1.8"/>
<path d="M414.7 701.1L423.1 709.5M414.7 709.5L423.1 701.1" stroke="#00f" stroke-width="1.8"/>
<text x="412.4" y="712.9" text-anchor="end" class="st">SH</text>
<circle cx="377.7" cy="735.8" r="6.0" fill="none" stroke="#00f" stroke-width="1.8"/>
<path d="M373.5 731.6L381.9 740.0M373.5 740.0L381.9 731.6" stroke="#00f" stroke-width="1.8"/>
<text x="371.2" y="743.4" text-anchor="end" class="st">HZ</text>
<rect x="124.5" y="871.7" width="201.1" height="26.8" fill="#fff" stroke="#000" stroke-width="1"/>
<text x="130.5" y="890.3" class="wm">WRF-Chem_NCAR_YSU</text>
<rect x="124.5" y="184.5" width="715.0" height="714.0" fill="none" stroke="#000" stroke-width="1.3"/>
<line x1="124.50" y1="184.50" x2="124.50" y2="172.50" stroke="#222" stroke-width="1"/>
<line x1="124.50" y1="898.50" x2="124.50" y2="910.50" stroke="#222" stroke-width="1"/>
<line x1="186.60" y1="184.50" x2="186.60" y2="172.50" stroke="#222" stroke-width="1"/>
<line x1="186.60" y1="898.50" x2="186.60" y2="910.50" stroke="#222" stroke-width="1"/>
<line x1="248.70" y1="184.50" x2="248.70" y2="172.50" stroke="#222" stroke-width="1"/>
<line x1="248.70" y1="898.50" x2="248.70" y2="910.50" stroke="#222" stroke-width="1"/>
<line x1="310.80" y1="184.50" x2="310.80" y2="172.50" stroke="#222" stroke-width="1"/>
<line x1="310.80" y1="898.50" x2="310.80" y2="910.50" stroke="#222" stroke-width="1"/>
<line x1="372.90" y1="184.50" x2="372.90" y2="160.50" stroke="#222" stroke-width="1"/>
<line x1="372.90" y1="898.50" x2="372.90" y2="922.50" stroke="#222" stroke-width="1"/>
<line x1="435.00" y1="184.50" x2="435.00" y2="172.50" stroke="#222" stroke-width="1"/>
<line x1="435.00" y1="898.50" x2="435.00" y2="910.50" stroke="#222" stroke-width="1"/>
<line x1="497.10" y1="184.50" x2="497.10" y2="172.50" stroke="#222" stroke-width="1"/>
<line x1="497.10" y1="898.50" x2="497.10" y2="910.50" stroke="#222" stroke-width="1"/>
<line x1="559.20" y1="184.50" x2="559.20" y2="172.50" stroke="#222" stroke-width="1"/>
<line x1="559.20" y1="898.50" x2="559.20" y2="910.50" stroke="#222" stroke-width="1"/>
<line x1="621.30" y1="184.50" x2="621.30" y2="172.50" stroke="#222" stroke-width="1"/>
<line x1="621.30" y1="898.50" x2="621.30" y2="910.50" stroke="#222" stroke-width="1"/>
<line x1="683.40" y1="184.50" x2="683.40" y2="160.50" stroke="#222" stroke-width="1"/>
<line x1="683.40" y1="898.50" x2="683.40" y2="922.50" stroke="#222" stroke-width="1"/>
<line x1="745.50" y1="184.50" x2="745.50" y2="172.50" stroke="#222" stroke-width="1"/>
<line x1="745.50" y1="898.50" x2="745.50" y2="910.50" stroke="#222" stroke-width="1"/>
<line x1="807.60" y1="184.50" x2="807.60" y2="172.50" stroke="#222" stroke-width="1"/>
<line x1="807.60" y1="898.50" x2="807.60" y2="910.50" stroke="#222" stroke-width="1"/>
<line x1="124.50" y1="183.90" x2="112.50" y2="183.90" stroke="#222" stroke-width="1"/>
<line x1="839.50" y1="183.90" x2="851.50" y2="183.90" stroke="#222" stroke-width="1"/>
<line x1="124.50" y1="246.05" x2="112.50" y2="246.05" stroke="#222" stroke-width="1"/>
<line x1="839.50" y1="246.05" x2="851.50" y2="246.05" stroke="#222" stroke-width="1"/>
<line x1="124.50" y1="308.20" x2="112.50" y2="308.20" stroke="#222" stroke-width="1"/>
<line x1="839.50" y1="308.20" x2="851.50" y2="308.20" stroke="#222" stroke-width="1"/>
<line x1="124.50" y1="370.35" x2="112.50" y2="370.35" stroke="#222" stroke-width="1"/>
<line x1="839.50" y1="370.35" x2="851.50" y2="370.35" stroke="#222" stroke-width="1"/>
<line x1="124.50" y1="432.50" x2="100.50" y2="432.50" stroke="#222" stroke-width="1"/>
<line x1="839.50" y1="432.50" x2="863.50" y2="432.50" stroke="#222" stroke-width="1"/>
<line x1="124.50" y1="494.65" x2="112.50" y2="494.65" stroke="#222" stroke-width="1"/>
<line x1="839.50" y1="494.65" x2="851.50" y2="494.65" stroke="#222" stroke-width="1"/>
<line x1="124.50" y1="556.80" x2="112.50" y2="556.80" stroke="#222" stroke-width="1"/>
<line x1="839.50" y1="556.80" x2="851.50" y2="556.80" stroke="#222" stroke-width="1"/>
<line x1="124.50" y1="618.95" x2="112.50" y2="618.95" stroke="#222" stroke-width="1"/>
<line x1="839.50" y1="618.95" x2="851.50" y2="618.95" stroke="#222" stroke-width="1"/>
<line x1="124.50" y1="681.10" x2="112.50" y2="681.10" stroke="#222" stroke-width="1"/>
<line x1="839.50" y1="681.10" x2="851.50" y2="681.10" stroke="#222" stroke-width="1"/>
<line x1="124.50" y1="743.25" x2="100.50" y2="743.25" stroke="#222" stroke-width="1"/>
<line x1="839.50" y1="743.25" x2="863.50" y2="743.25" stroke="#222" stroke-width="1"/>
<line x1="124.50" y1="805.40" x2="112.50" y2="805.40" stroke="#222" stroke-width="1"/>
<line x1="839.50" y1="805.40" x2="851.50" y2="805.40" stroke="#222" stroke-width="1"/>
<line x1="124.50" y1="867.55" x2="112.50" y2="867.55" stroke="#222" stroke-width="1"/>
<line x1="839.50" y1="867.55" x2="851.50" y2="867.55" stroke="#222" stroke-width="1"/>
<text x="20" y="444.4" class="ax">40N</text>
<text x="20" y="755.6" class="ax">30N</text>
<text x="373" y="970.6" class="ax" text-anchor="middle">120E</text>
<text x="684" y="970.6" class="ax" text-anchor="middle">130E</text>
<rect x="879.60" y="191.60" width="42.20" height="33.63" fill="#8E1519"/>
<rect x="879.60" y="224.93" width="42.20" height="33.63" fill="#A8171E"/>
<rect x="879.60" y="258.27" width="42.20" height="33.63" fill="#BF1D24"/>
<rect x="879.60" y="291.60" width="42.20" height="33.63" fill="#D4282A"/>
<rect x="879.60" y="324.93" width="42.20" height="33.63" fill="#E2422B"/>
<rect x="879.60" y="358.27" width="42.20" height="33.63" fill="#EC5B2A"/>
<rect x="879.60" y="391.60" width="42.20" height="33.63" fill="#F57C2E"/>
<rect x="879.60" y="424.93" width="42.20" height="33.63" fill="#F6A540"/>
<rect x="879.60" y="458.27" width="42.20" height="33.63" fill="#F9CF51"/>
<rect x="879.60" y="491.60" width="42.20" height="33.63" fill="#DCDD5B"/>
<rect x="879.60" y="524.93" width="42.20" height="33.63" fill="#A5CF57"/>
<rect x="879.60" y="558.27" width="42.20" height="33.63" fill="#6DBB4A"/>
<rect x="879.60" y="591.60" width="42.20" height="33.63" fill="#4BA75D"/>
<rect x="879.60" y="624.93" width="42.20" height="33.63" fill="#44998A"/>
<rect x="879.60" y="658.27" width="42.20" height="33.63" fill="#4689BB"/>
<rect x="879.60" y="691.60" width="42.20" height="33.63" fill="#5C9ED7"/>
<rect x="879.60" y="724.93" width="42.20" height="33.63" fill="#7ABCE8"/>
<rect x="879.60" y="758.27" width="42.20" height="33.63" fill="#99D6F3"/>
<rect x="879.60" y="791.60" width="42.20" height="33.63" fill="#BFE6F8"/>
<rect x="879.60" y="824.93" width="42.20" height="33.63" fill="#DFF1FB"/>
<rect x="879.60" y="858.27" width="42.20" height="33.63" fill="#FFFFFF"/>
<line x1="879.60" y1="224.93" x2="921.80" y2="224.93" stroke="#222" stroke-width="0.9"/>
<line x1="879.60" y1="258.27" x2="921.80" y2="258.27" stroke="#222" stroke-width="0.9"/>
<line x1="879.60" y1="291.60" x2="921.80" y2="291.60" stroke="#222" stroke-width="0.9"/>
<line x1="879.60" y1="324.93" x2="921.80" y2="324.93" stroke="#222" stroke-width="0.9"/>
<line x1="879.60" y1="358.27" x2="921.80" y2="358.27" stroke="#222" stroke-width="0.9"/>
<line x1="879.60" y1="391.60" x2="921.80" y2="391.60" stroke="#222" stroke-width="0.9"/>
<line x1="879.60" y1="424.93" x2="921.80" y2="424.93" stroke="#222" stroke-width="0.9"/>
<line x1="879.60" y1="458.27" x2="921.80" y2="458.27" stroke="#222" stroke-width="0.9"/>
<line x1="879.60" y1="491.60" x2="921.80" y2="491.60" stroke="#222" stroke-width="0.9"/>
<line x1="879.60" y1="524.93" x2="921.80" y2="524.93" stroke="#222" stroke-width="0.9"/>
<line x1="879.60" y1="558.27" x2="921.80" y2="558.27" stroke="#222" stroke-width="0.9"/>
<line x1="879.60" y1="591.60" x2="921.80" y2="591.60" stroke="#222" stroke-width="0.9"/>
<line x1="879.60" y1="624.93" x2="921.80" y2="624.93" stroke="#222" stroke-width="0.9"/>
<line x1="879.60" y1="658.27" x2="921.80" y2="658.27" stroke="#222" stroke-width="0.9"/>
<line x1="879.60" y1="691.60" x2="921.80" y2="691.60" stroke="#222" stroke-width="0.9"/>
<line x1="879.60" y1="724.93" x2="921.80" y2="724.93" stroke="#222" stroke-width="0.9"/>
<line x1="879.60" y1="758.27" x2="921.80" y2="758.27" stroke="#222" stroke-width="0.9"/>
<line x1="879.60" y1="791.60" x2="921.80" y2="791.60" stroke="#222" stroke-width="0.9"/>
<line x1="879.60" y1="824.93" x2="921.80" y2="824.93" stroke="#222" stroke-width="0.9"/>
<line x1="879.60" y1="858.27" x2="921.80" y2="858.27" stroke="#222" stroke-width="0.9"/>
<rect x="879.60" y="191.60" width="42.20" height="700.00" fill="none" stroke="#666" stroke-width="0.9"/>
<text x="959.5" y="236.83" text-anchor="middle" class="cbl">100</text>
<text x="959.5" y="303.50" text-anchor="middle" class="cbl">90</text>
<text x="959.5" y="370.17" text-anchor="middle" class="cbl">80</text>
<text x="959.5" y="436.83" text-anchor="middle" class="cbl">70</text>
<text x="959.5" y="503.50" text-anchor="middle" class="cbl">60</text>
<text x="959.5" y="570.17" text-anchor="middle" class="cbl">50</text>
<text x="959.5" y="636.83" text-anchor="middle" class="cbl">40</text>
<text x="959.5" y="703.50" text-anchor="middle" class="cbl">30</text>
<text x="959.5" y="770.17" text-anchor="middle" class="cbl">20</text>
<text x="959.5" y="836.83" text-anchor="middle" class="cbl">10</text>
</svg>
</body></html>
